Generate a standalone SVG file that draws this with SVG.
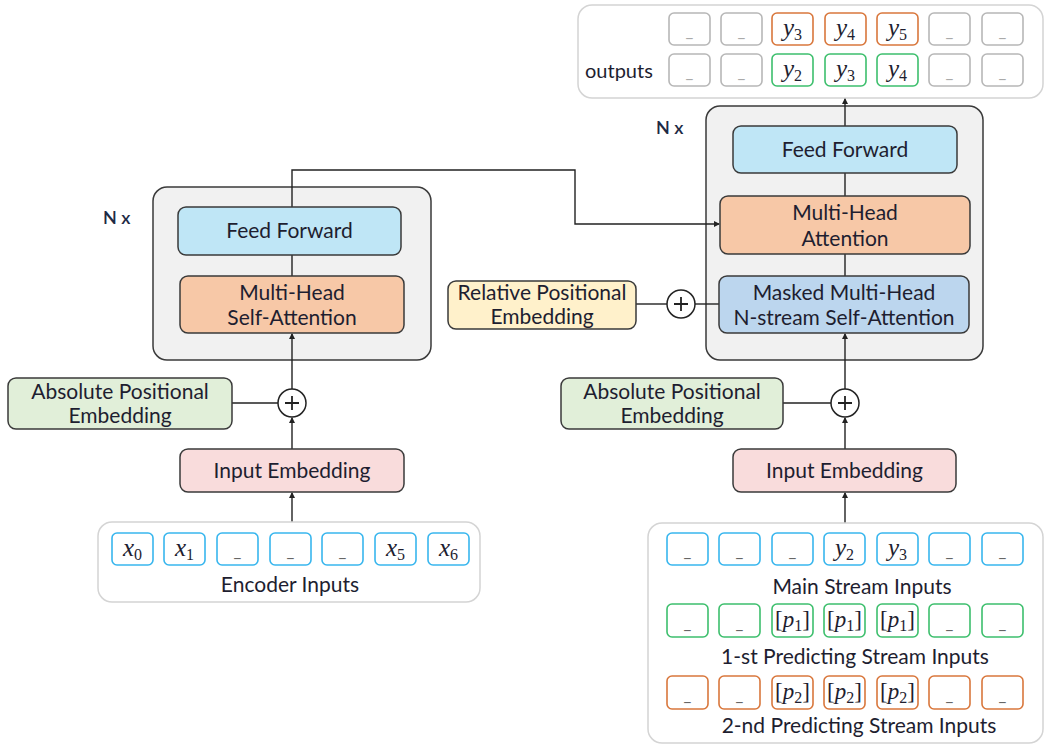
<svg xmlns="http://www.w3.org/2000/svg" width="1045" height="745" viewBox="0 0 1045 745">
  <defs>
    <marker id="arr" markerWidth="6" markerHeight="6" refX="5" refY="3" orient="auto" markerUnits="userSpaceOnUse">
      <path d="M0,0 L6,3 L0,6 z" fill="#222"/>
    </marker>
    <style>
      text { font-family: Lato, "Open Sans", sans-serif; fill: #1e1e30; }
      .lbl { font-size: 21px; text-anchor: middle; }
      .nx { font-size: 18px; font-weight: 600; fill: #1e2a44; }
      .blk { stroke: #3a3a3a; stroke-width: 1.5; }
      .outer { fill: #f1f1f1; stroke: #3a3a3a; stroke-width: 1.5; }
      .cont { fill: #ffffff; stroke: #d4d4d4; stroke-width: 1.5; }
      .ff { fill: #bfe6f6; }
      .att { fill: #f7c8a7; }
      .mask { fill: #bcd6ee; }
      .rel { fill: #fff1cb; }
      .abs { fill: #e1efd9; }
      .emb { fill: #f9dcdc; }
      .tok { fill: #ffffff; stroke-width: 1.6; }
      .tb { stroke: #38b6ee; }
      .tg { stroke: #3dbf6d; }
      .to { stroke: #d9773c; }
      .tx { stroke: #b7b7b7; }
      .m { font-family: "Liberation Serif", serif; font-size: 25px; text-anchor: middle; fill: #1e1e30; }
      .it { font-style: italic; }
      .sub { font-size: 16px; }
      .us { font-size: 17px; text-anchor: middle; fill: #666; }
      .usl { font-size: 17px; text-anchor: middle; fill: #aaa; }
      .wire { fill: none; stroke: #222; stroke-width: 1.4; }
      .plus { fill: #ffffff; stroke: #222; stroke-width: 1.5; }
    </style>
  </defs>

  <!-- output token container -->
  <g id="outputs">
    <rect class="cont" x="578" y="5" width="465" height="93" rx="14"/>
    <text x="585" y="78" style="font-size:20px">outputs</text>
    <!-- top row -->
    <rect class="tok tx" x="669" y="13" width="41" height="32" rx="5"/><text class="usl" x="689.5" y="37">_</text>
    <rect class="tok tx" x="721" y="13" width="41" height="32" rx="5"/><text class="usl" x="741.5" y="37">_</text>
    <rect class="tok to" x="772" y="13" width="41" height="32" rx="5"/><text class="m" x="792.5" y="36"><tspan class="it">y</tspan><tspan class="sub" dy="4">3</tspan></text>
    <rect class="tok to" x="825" y="13" width="41" height="32" rx="5"/><text class="m" x="845.5" y="36"><tspan class="it">y</tspan><tspan class="sub" dy="4">4</tspan></text>
    <rect class="tok to" x="877" y="13" width="41" height="32" rx="5"/><text class="m" x="897.5" y="36"><tspan class="it">y</tspan><tspan class="sub" dy="4">5</tspan></text>
    <rect class="tok tx" x="929" y="13" width="41" height="32" rx="5"/><text class="usl" x="949.5" y="37">_</text>
    <rect class="tok tx" x="982" y="13" width="41" height="32" rx="5"/><text class="usl" x="1002.5" y="37">_</text>
    <!-- bottom row -->
    <rect class="tok tx" x="669" y="54" width="41" height="32" rx="5"/><text class="usl" x="689.5" y="78">_</text>
    <rect class="tok tx" x="721" y="54" width="41" height="32" rx="5"/><text class="usl" x="741.5" y="78">_</text>
    <rect class="tok tg" x="772" y="54" width="41" height="32" rx="5"/><text class="m" x="792.5" y="77"><tspan class="it">y</tspan><tspan class="sub" dy="4">2</tspan></text>
    <rect class="tok tg" x="825" y="54" width="41" height="32" rx="5"/><text class="m" x="845.5" y="77"><tspan class="it">y</tspan><tspan class="sub" dy="4">3</tspan></text>
    <rect class="tok tg" x="877" y="54" width="41" height="32" rx="5"/><text class="m" x="897.5" y="77"><tspan class="it">y</tspan><tspan class="sub" dy="4">4</tspan></text>
    <rect class="tok tx" x="929" y="54" width="41" height="32" rx="5"/><text class="usl" x="949.5" y="78">_</text>
    <rect class="tok tx" x="982" y="54" width="41" height="32" rx="5"/><text class="usl" x="1002.5" y="78">_</text>
  </g>

  <g id="encoder-stack">
    <rect class="outer" x="153" y="187" width="278" height="173" rx="14"/>
    <text class="nx" x="103" y="224">N x</text>
  </g>
  <g id="decoder-stack">
    <rect class="outer" x="706" y="106" width="277" height="254" rx="14"/>
    <text class="nx" x="656" y="134">N x</text>
  </g>

  <!-- connectors -->
  <g id="connectors">
    <!-- encoder side -->
    <line class="wire" x1="292" y1="522" x2="292" y2="493" marker-end="url(#arr)"/>
    <line class="wire" x1="292" y1="449" x2="292" y2="418" marker-end="url(#arr)"/>
    <line class="wire" x1="292" y1="389" x2="292" y2="334" marker-end="url(#arr)"/>
    <line class="wire" x1="292" y1="276" x2="292" y2="255"/>
    <line class="wire" x1="232" y1="403" x2="278" y2="403"/>
    <polyline class="wire" points="292,207 292,170 575,170 575,224 719,224" marker-end="url(#arr)"/>
    <!-- decoder side -->
    <line class="wire" x1="845" y1="523" x2="845" y2="493" marker-end="url(#arr)"/>
    <line class="wire" x1="845" y1="449" x2="845" y2="418" marker-end="url(#arr)"/>
    <line class="wire" x1="845" y1="389" x2="845" y2="334" marker-end="url(#arr)"/>
    <line class="wire" x1="845" y1="276" x2="845" y2="254"/>
    <line class="wire" x1="845" y1="196" x2="845" y2="173"/>
    <line class="wire" x1="845" y1="126" x2="845" y2="99" marker-end="url(#arr)"/>
    <line class="wire" x1="783" y1="403" x2="831" y2="403"/>
    <line class="wire" x1="636" y1="304" x2="667" y2="304"/>
    <line class="wire" x1="695" y1="304" x2="719" y2="304"/>
  </g>

  <!-- encoder nodes -->
  <g id="enc-ff">
    <rect class="blk ff" x="178" y="207" width="223" height="48" rx="8"/>
    <text class="lbl" x="289.5" y="238">Feed Forward</text>
  </g>
  <g id="enc-att">
    <rect class="blk att" x="180" y="276" width="224" height="57" rx="8"/>
    <text class="lbl" x="292" y="300">Multi-Head</text>
    <text class="lbl" x="292" y="325">Self-Attention</text>
  </g>
  <g id="enc-plus">
    <circle class="plus" cx="292" cy="403" r="14"/>
    <path d="M285,403 H299 M292,396 V410" stroke="#222" stroke-width="1.8"/>
  </g>
  <g id="enc-abs">
    <rect class="blk abs" x="8" y="378" width="224" height="51" rx="8"/>
    <text class="lbl" x="120" y="399">Absolute Positional</text>
    <text class="lbl" x="120" y="423">Embedding</text>
  </g>
  <g id="enc-emb">
    <rect class="blk emb" x="180" y="449" width="224" height="43" rx="8"/>
    <text class="lbl" x="292" y="478">Input Embedding</text>
  </g>
  <g id="enc-inputs">
    <rect class="cont" x="98" y="522" width="382" height="80" rx="14"/>
    <rect class="tok tb" x="112" y="533" width="41" height="32" rx="5"/><text class="m" x="132.5" y="556"><tspan class="it">x</tspan><tspan class="sub" dy="4">0</tspan></text>
    <rect class="tok tb" x="164" y="533" width="41" height="32" rx="5"/><text class="m" x="184.5" y="556"><tspan class="it">x</tspan><tspan class="sub" dy="4">1</tspan></text>
    <rect class="tok tb" x="217" y="533" width="41" height="32" rx="5"/><text class="us" x="237.5" y="557">_</text>
    <rect class="tok tb" x="270" y="533" width="41" height="32" rx="5"/><text class="us" x="290.5" y="557">_</text>
    <rect class="tok tb" x="322" y="533" width="41" height="32" rx="5"/><text class="us" x="342.5" y="557">_</text>
    <rect class="tok tb" x="375" y="533" width="41" height="32" rx="5"/><text class="m" x="395.5" y="556"><tspan class="it">x</tspan><tspan class="sub" dy="4">5</tspan></text>
    <rect class="tok tb" x="428" y="533" width="41" height="32" rx="5"/><text class="m" x="448.5" y="556"><tspan class="it">x</tspan><tspan class="sub" dy="4">6</tspan></text>
    <text class="lbl" x="290" y="592">Encoder Inputs</text>
  </g>

  <!-- decoder nodes -->
  <g id="dec-ff">
    <rect class="blk ff" x="733" y="126" width="224" height="47" rx="8"/>
    <text class="lbl" x="845" y="157">Feed Forward</text>
  </g>
  <g id="dec-att">
    <rect class="blk att" x="720" y="196" width="250" height="58" rx="8"/>
    <text class="lbl" x="845" y="220">Multi-Head</text>
    <text class="lbl" x="845" y="246">Attention</text>
  </g>
  <g id="dec-mask">
    <rect class="blk mask" x="719" y="276" width="250" height="57" rx="8"/>
    <text class="lbl" x="844" y="300">Masked Multi-Head</text>
    <text class="lbl" x="844" y="325">N-stream Self-Attention</text>
  </g>
  <g id="rel-plus">
    <circle class="plus" cx="681" cy="304" r="14"/>
    <path d="M674,304 H688 M681,297 V311" stroke="#222" stroke-width="1.8"/>
  </g>
  <g id="rel-pos">
    <rect class="blk rel" x="448" y="281" width="188" height="48" rx="8"/>
    <text class="lbl" x="542" y="300">Relative Positional</text>
    <text class="lbl" x="542" y="324">Embedding</text>
  </g>
  <g id="dec-plus">
    <circle class="plus" cx="845" cy="403" r="14"/>
    <path d="M838,403 H852 M845,396 V410" stroke="#222" stroke-width="1.8"/>
  </g>
  <g id="dec-abs">
    <rect class="blk abs" x="561" y="378" width="222" height="51" rx="8"/>
    <text class="lbl" x="672" y="399">Absolute Positional</text>
    <text class="lbl" x="672" y="423">Embedding</text>
  </g>
  <g id="dec-emb">
    <rect class="blk emb" x="733" y="449" width="223" height="43" rx="8"/>
    <text class="lbl" x="844.5" y="478">Input Embedding</text>
  </g>

  <g id="dec-inputs">
    <rect class="cont" x="648" y="523" width="395" height="220" rx="14"/>
    <!-- main stream -->
    <rect class="tok tb" x="667" y="533" width="41" height="32" rx="5"/><text class="us" x="687.5" y="557">_</text>
    <rect class="tok tb" x="719" y="533" width="41" height="32" rx="5"/><text class="us" x="739.5" y="557">_</text>
    <rect class="tok tb" x="772" y="533" width="41" height="32" rx="5"/><text class="us" x="792.5" y="557">_</text>
    <rect class="tok tb" x="824" y="533" width="41" height="32" rx="5"/><text class="m" x="844.5" y="556"><tspan class="it">y</tspan><tspan class="sub" dy="4">2</tspan></text>
    <rect class="tok tb" x="877" y="533" width="41" height="32" rx="5"/><text class="m" x="897.5" y="556"><tspan class="it">y</tspan><tspan class="sub" dy="4">3</tspan></text>
    <rect class="tok tb" x="929" y="533" width="41" height="32" rx="5"/><text class="us" x="949.5" y="557">_</text>
    <rect class="tok tb" x="982" y="533" width="41" height="32" rx="5"/><text class="us" x="1002.5" y="557">_</text>
    <text class="lbl" x="862" y="594">Main Stream Inputs</text>
    <!-- 1st predicting stream -->
    <rect class="tok tg" x="667" y="604" width="41" height="33" rx="5"/><text class="us" x="687.5" y="629">_</text>
    <rect class="tok tg" x="719" y="604" width="41" height="33" rx="5"/><text class="us" x="739.5" y="629">_</text>
    <rect class="tok tg" x="772" y="604" width="41" height="33" rx="5"/><text class="m" x="792.5" y="627" style="font-size:23px">[<tspan class="it">p</tspan><tspan class="sub" dy="4">1</tspan><tspan dy="-4">]</tspan></text>
    <rect class="tok tg" x="824" y="604" width="41" height="33" rx="5"/><text class="m" x="844.5" y="627" style="font-size:23px">[<tspan class="it">p</tspan><tspan class="sub" dy="4">1</tspan><tspan dy="-4">]</tspan></text>
    <rect class="tok tg" x="877" y="604" width="41" height="33" rx="5"/><text class="m" x="897.5" y="627" style="font-size:23px">[<tspan class="it">p</tspan><tspan class="sub" dy="4">1</tspan><tspan dy="-4">]</tspan></text>
    <rect class="tok tg" x="929" y="604" width="41" height="33" rx="5"/><text class="us" x="949.5" y="629">_</text>
    <rect class="tok tg" x="982" y="604" width="41" height="33" rx="5"/><text class="us" x="1002.5" y="629">_</text>
    <text class="lbl" x="855" y="664">1-st Predicting Stream Inputs</text>
    <!-- 2nd predicting stream -->
    <rect class="tok to" x="667" y="676" width="41" height="33" rx="5"/><text class="us" x="687.5" y="701">_</text>
    <rect class="tok to" x="719" y="676" width="41" height="33" rx="5"/><text class="us" x="739.5" y="701">_</text>
    <rect class="tok to" x="772" y="676" width="41" height="33" rx="5"/><text class="m" x="792.5" y="699" style="font-size:23px">[<tspan class="it">p</tspan><tspan class="sub" dy="4">2</tspan><tspan dy="-4">]</tspan></text>
    <rect class="tok to" x="824" y="676" width="41" height="33" rx="5"/><text class="m" x="844.5" y="699" style="font-size:23px">[<tspan class="it">p</tspan><tspan class="sub" dy="4">2</tspan><tspan dy="-4">]</tspan></text>
    <rect class="tok to" x="877" y="676" width="41" height="33" rx="5"/><text class="m" x="897.5" y="699" style="font-size:23px">[<tspan class="it">p</tspan><tspan class="sub" dy="4">2</tspan><tspan dy="-4">]</tspan></text>
    <rect class="tok to" x="929" y="676" width="41" height="33" rx="5"/><text class="us" x="949.5" y="701">_</text>
    <rect class="tok to" x="982" y="676" width="41" height="33" rx="5"/><text class="us" x="1002.5" y="701">_</text>
    <text class="lbl" x="859" y="733">2-nd Predicting Stream Inputs</text>
  </g>
</svg>
